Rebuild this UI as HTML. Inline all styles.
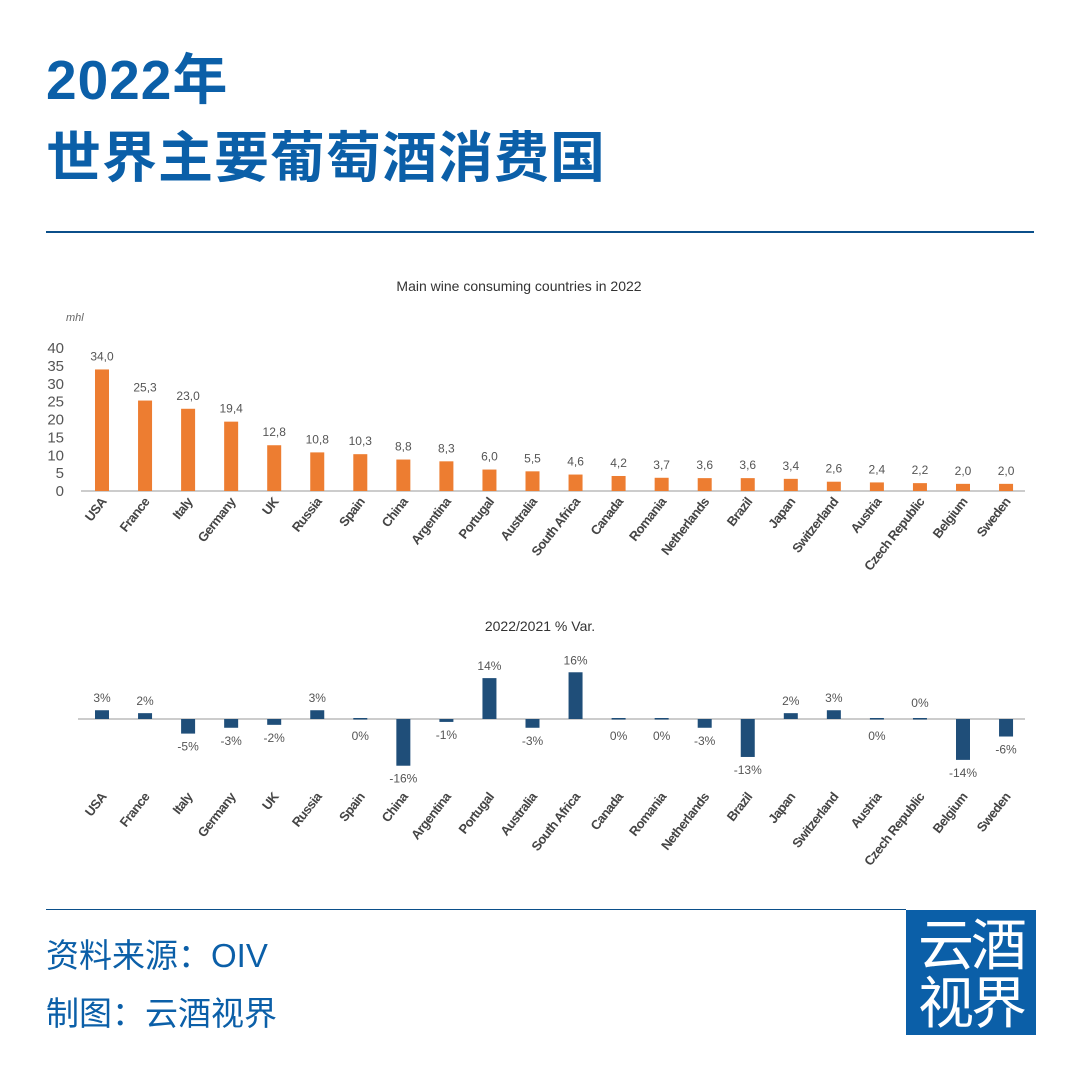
<!DOCTYPE html>
<html><head><meta charset="utf-8">
<style>
body{margin:0;width:1080px;height:1074px;background:#fff;overflow:hidden;font-family:"Liberation Sans","Noto Sans CJK SC",sans-serif;position:relative}
.t{position:absolute;left:46px;color:#0b5fa8;font-weight:bold;font-size:55px;font-family:"Liberation Sans","Noto Sans CJK SC",sans-serif;letter-spacing:1px;line-height:1}
.f{position:absolute;left:46px;color:#0b5fa8;font-size:33px;font-family:"Liberation Sans","Noto Sans CJK SC",sans-serif;line-height:1}
</style></head><body>
<div class="t" style="top:53px">2022年</div>
<div class="t" style="top:131px">世界主要葡萄酒消费国</div>
<div style="position:absolute;left:46px;top:231px;width:988px;height:2px;background:#0b4f8a"></div>
<svg id="c" width="1080" height="1074" style="position:absolute;left:0;top:0"></svg>
<div style="position:absolute;left:46px;top:909px;width:860px;height:1px;background:#0b4f8a"></div>
<div class="f" style="top:939px">资料来源：OIV</div>
<div class="f" style="top:997px">制图：云酒视界</div>
<div style="position:absolute;left:906px;top:910px;width:130px;height:125px;background:#0b5fa8;color:#fff;font-size:56px;line-height:58px;text-align:center;font-family:'Noto Sans CJK SC',sans-serif;padding-top:3px;letter-spacing:-3px;box-sizing:border-box">云酒<br>视界</div>
<script>
const countries=["USA","France","Italy","Germany","UK","Russia","Spain","China","Argentina","Portugal","Australia","South Africa","Canada","Romania","Netherlands","Brazil","Japan","Switzerland","Austria","Czech Republic","Belgium","Sweden"];
const consumption=[34.0,25.3,23.0,19.4,12.8,10.8,10.3,8.8,8.3,6.0,5.5,4.6,4.2,3.7,3.6,3.6,3.4,2.6,2.4,2.2,2.0,2.0];
const variation=[3,2,-5,-3,-2,3,0,-16,-1,14,-3,16,0,0,-3,-13,2,3,0,0,-14,-6];
const yTicks=[0,5,10,15,20,25,30,35,40];
const svg=document.getElementById('c');const NS="http://www.w3.org/2000/svg";
function mk(t,a,txt){const e=document.createElementNS(NS,t);for(const k in a)e.setAttribute(k,a[k]);if(txt!==undefined)e.textContent=txt;svg.appendChild(e);return e;}
const xC=i=>102+i*43.05;
const y1=v=>491-v*3.575;
const y2=v=>719-v*2.92;
const fam='"Liberation Sans Narrow","Liberation Sans",sans-serif';
let e=mk('text',{x:519,y:291,'text-anchor':'middle','font-size':14,fill:'#333','font-family':fam},'Main wine consuming countries in 2022');

e=mk('text',{x:66,y:321,'font-size':11,'font-style':'italic',fill:'#666','font-family':fam},'mhl');

yTicks.forEach(t=>{const el=mk('text',{x:64,y:y1(t)+5,'text-anchor':'end','font-size':15,fill:'#555','font-family':fam},t);
});
e=mk('line',{x1:81,x2:1025,y1:491,y2:491,stroke:'#ccc','stroke-width':2});

consumption.forEach((v,i)=>{const x=xC(i);
const b=mk('rect',{x:x-7,y:y1(v),width:14,height:491-y1(v),fill:'#ed7d31'});

const l=mk('text',{x:x,y:y1(v)-9,'text-anchor':'middle','font-size':12,fill:'#555','font-family':fam},v.toFixed(1).replace('.',','));

const c=mk('text',{x:0,y:0,'text-anchor':'end','font-size':13,'font-weight':'bold',fill:'#444','font-family':fam,'letter-spacing':'-0.6',transform:`translate(${x+5},${502}) rotate(-52)`},countries[i]);
});
e=mk('text',{x:540,y:631,'text-anchor':'middle','font-size':14,fill:'#333','font-family':fam},'2022/2021 % Var.');

e=mk('line',{x1:78,x2:1025,y1:719,y2:719,stroke:'#ccc','stroke-width':2});

variation.forEach((v,i)=>{const x=xC(i);const h=Math.max(Math.abs(v*2.92),v===0?1.5:0);
const top=v>=0?y2(v):719;
const b=mk('rect',{x:x-7,y:v===0?718:top,width:14,height:h,fill:'#1f4e79'});

let ly=v>0?y2(v)-8:(v<0?y2(v)+17:740);
if(v===0&&countries[i]==="Czech Republic")ly=707;
const l=mk('text',{x:x,y:ly,'text-anchor':'middle','font-size':12,fill:'#555','font-family':fam},v+'%');

const c=mk('text',{x:0,y:0,'text-anchor':'end','font-size':13,'font-weight':'bold',fill:'#444','font-family':fam,'letter-spacing':'-0.6',transform:`translate(${x+5},${797}) rotate(-52)`},countries[i]);
});
</script>
</body></html>
